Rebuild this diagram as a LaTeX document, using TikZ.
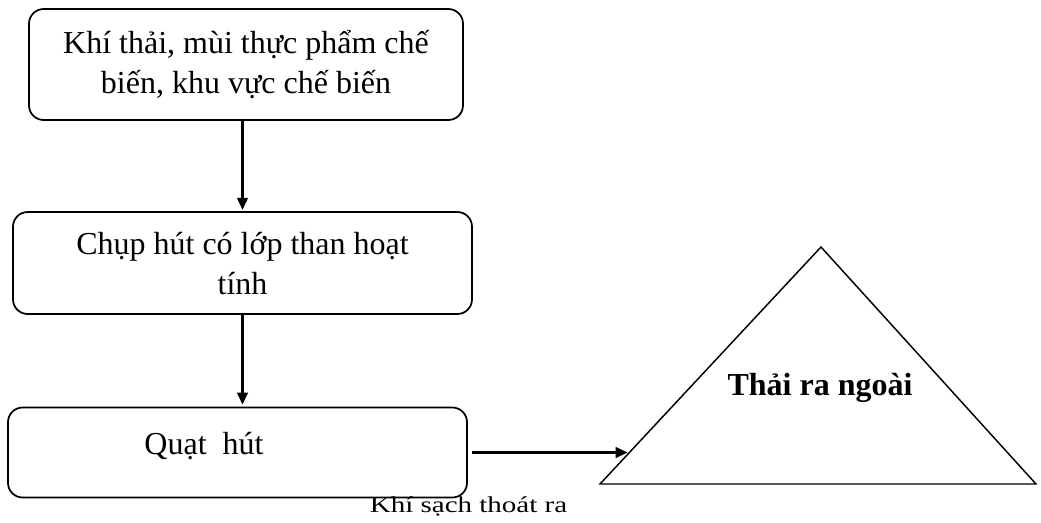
\documentclass[tikz,border=0pt]{standalone}
\usepackage{fontspec}
\setmainfont{Liberation Serif}
\newfontfamily\notefont[FakeStretch=1.28]{Liberation Serif}
\usetikzlibrary{positioning,arrows.meta,calc}
\tikzset{
  stage/.style={draw,line width=1.3pt,rounded corners=11pt,inner sep=0pt,align=center,font=\fontsize{24}{30}\selectfont},
  lbl/.style={inner sep=0pt,font=\fontsize{24}{30}\selectfont},
  arr/.style={-{Triangle[length=9pt,width=8pt]},line width=1.7pt},
}
\begin{document}
\begin{tikzpicture}[x=0.75pt,y=-0.75pt]
\useasboundingbox (0,0) rectangle (1041,522);
% process stages
\node[stage,minimum width=325.5pt,minimum height=83.25pt] (src) at (246,64.5) {Khí thải, mùi thực phẩm chế\\biến, khu vực chế biến};
\node[stage,minimum width=344.25pt,minimum height=76.5pt,text depth=0pt] (filter) at (242.5,263) {Chụp hút có lớp than hoạt\\tính};
\node[stage,minimum width=344.25pt,minimum height=67.5pt] (fan) at (237.5,452.5) {};
\node[lbl] (fantext) at (204,446) {Quạt\ \ hút};
% outlet
\coordinate (apex) at (821,247);
\coordinate (baseL) at (600,484);
\coordinate (baseR) at (1036,484);
\draw[line width=1.1pt,line join=miter] (apex) -- (baseL) -- (baseR) -- cycle;
\node[lbl,font=\fontsize{24}{30}\selectfont\bfseries] (out) at (820,388) {Thải ra ngoài};
\coordinate (inlet) at ($(apex)!0.875!(baseL)$);
% flow
\draw[arr] (src.south -| filter.north) -- ([yshift=1pt]filter.north);
\draw[arr] (filter.south) -- ([yshift=1.5pt]filter.south |- fan.north);
\draw[arr] ([xshift=3pt]fan.east) -- (fan.east -| inlet);
\node[inner sep=0pt,font=\notefont\fontsize{17}{20}\selectfont] (clean) at (468.5,506) {Khí sạch thoát ra};
\end{tikzpicture}
\end{document}
